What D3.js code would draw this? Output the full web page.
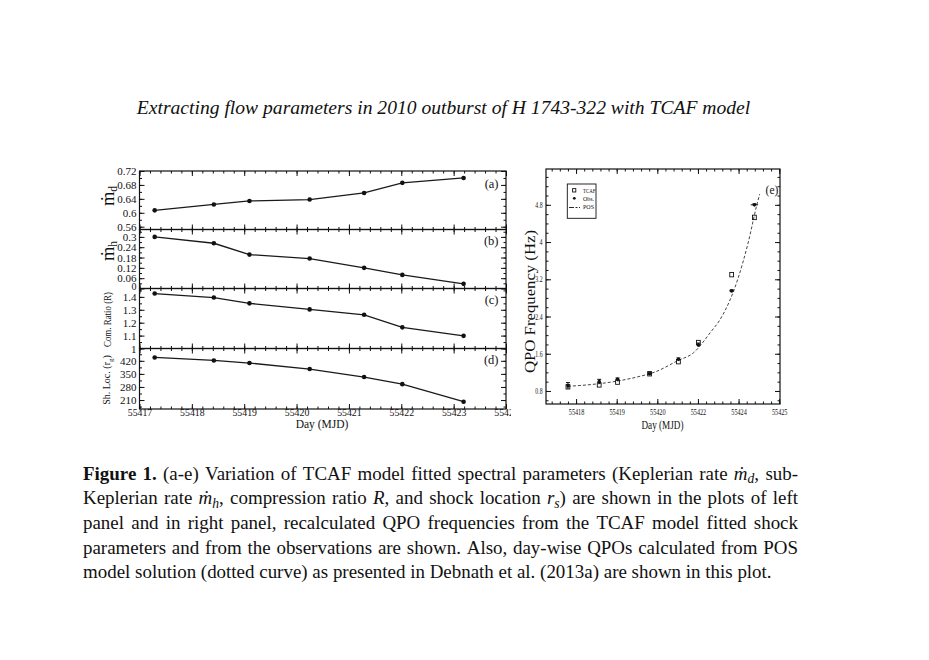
<!DOCTYPE html>
<html><head><meta charset="utf-8">
<script src="https://cdn.jsdelivr.net/npm/d3@7"></script>
<style>
body{margin:0;background:#fff;}
svg{display:block;}
text{font-family:"Liberation Serif","DejaVu Serif","Times New Roman",serif;fill:#111;}
</style>
</head><body>
<svg id="c" width="929" height="660"></svg>
<script>
// ---------------- DATA ----------------
const titleText = "Extracting flow parameters in 2010 outburst of H 1743-322 with TCAF model";

// left panels (a-d)
const daysLeft = [55417.29, 55418.42, 55419.10, 55420.25, 55421.29, 55422.02, 55423.19];
const mdotD    = [0.607, 0.624, 0.634, 0.638, 0.657, 0.686, 0.700];
const mdotH    = [0.300, 0.263, 0.197, 0.174, 0.120, 0.079, 0.027];
const compR    = [1.426, 1.395, 1.350, 1.303, 1.261, 1.164, 1.098];
const shockLoc = [438, 422, 408, 376, 333, 295, 201];
const leftXTicks = [55417, 55418, 55419, 55420, 55421, 55422, 55423, 55424];
const ticksA = [0.56, 0.60, 0.64, 0.68, 0.72];
const ticksB = [0, 0.06, 0.12, 0.18, 0.24, 0.30];
const ticksC = [1.0, 1.1, 1.2, 1.3, 1.4];
const ticksD = [210, 280, 350, 420];
const panelLetters = ["(a)", "(b)", "(c)", "(d)"];

// right panel (e)
const qpoTickVals   = [55418, 55419, 55420, 55421, 55422, 55423];
const qpoTickLabels = ["55418", "55419", "55420", "55422", "55424", "55425"];
const qpoYTicks = [0.8, 1.6, 2.4, 3.2, 4.0, 4.8];
const qpoDays = [55417.80, 55418.57, 55419.02, 55419.81, 55420.52, 55421.01, 55421.83, 55422.39];
const obsQPO  = [0.91, 1.00, 1.05, 1.17, 1.48, 1.79, 2.95, 4.80];
const obsErr  = [0.07, 0.05, 0.03, 0.02, 0.03, 0.04, 0.02, 0.02];
const obsXErr = [0, 0, 0, 0, 0, 0, 0.06, 0.09];
const tcafQPO = [0.89, 0.93, 0.99, 1.17, 1.43, 1.84, 3.30, 4.53];
const posDays = [55417.80, 55418.50, 55419.00, 55419.50, 55419.95, 55420.50, 55420.89, 55421.30, 55421.59, 55421.98, 55422.24, 55422.45, 55422.52];
const posQPO  = [0.90, 0.95, 1.01, 1.10, 1.21, 1.45, 1.62, 2.05, 2.40, 3.20, 4.00, 4.80, 5.03];
const legendLabels = ["TCAF", "Obs.", "POS"];

// ---------------- DRAW ----------------
const svg = d3.select("#c");
const ink = "#111";
const defs = svg.append("defs");

// Title
svg.append("text").attr("x", 443.5).attr("y", 114).attr("text-anchor", "middle")
  .attr("font-style", "italic").attr("font-size", 19.6).text(titleText);

// ---- Left panels ----
const xL = d3.scaleLinear().domain([55417, 55424]).range([139.5, 506]);
defs.append("clipPath").attr("id", "pageclip")
  .append("rect").attr("x", 0).attr("y", -20).attr("width", 511).attr("height", 60);

const xMinor = d3.range(55417, 55424.001, 0.2).map(v => +v.toFixed(2));

const panels = [
  {vals: mdotD, domain: [0.552, 0.72], top: 171, bottom: 229.5, ticks: ticksA, minorStep: 0.02},
  {vals: mdotH, domain: [0, 0.343], top: 229.5, bottom: 288.5, ticks: ticksB, minorStep: 0.03},
  {vals: compR, domain: [1.0, 1.465], top: 288.5, bottom: 348.5, ticks: ticksC, minorStep: 0.05},
  {vals: shockLoc, domain: [162, 486], top: 348.5, bottom: 409, ticks: ticksD, minorStep: 35}
];

function cleanAxis(sel) {
  sel.select(".domain").remove();
  sel.selectAll("line").attr("stroke", ink).attr("stroke-width", 1);
  sel.selectAll("text").attr("fill", ink).style("font-family", '"Liberation Serif",serif');
  return sel;
}

panels.forEach((p, i) => {
  const g = svg.append("g");
  const y = d3.scaleLinear().domain(p.domain).range([p.bottom, p.top]);
  const [x0, x1] = xL.range();
  const minorY = d3.range(p.domain[0] - (p.domain[0] % p.minorStep), p.domain[1] + 1e-9, p.minorStep)
    .filter(v => v >= p.domain[0] && v <= p.domain[1]);

  // bottom ticks
  const isLast = i === panels.length - 1;
  const bx = g.append("g").attr("transform", `translate(0,${p.bottom})`)
    .call(d3.axisBottom(xL).tickValues(leftXTicks).tickSize(-5).tickPadding(0.5)
      .tickFormat(isLast ? d3.format("d") : () => ""))
    .attr("font-size", 9.8);
  cleanAxis(bx);
  if (isLast) bx.attr("clip-path", "url(#pageclip)");
  cleanAxis(g.append("g").attr("transform", `translate(0,${p.bottom})`)
    .call(d3.axisBottom(xL).tickValues(xMinor).tickSize(-2.5).tickFormat(() => "")));
  // top ticks
  cleanAxis(g.append("g").attr("transform", `translate(0,${p.top})`)
    .call(d3.axisTop(xL).tickValues(leftXTicks).tickSize(-5).tickFormat(() => "")));
  cleanAxis(g.append("g").attr("transform", `translate(0,${p.top})`)
    .call(d3.axisTop(xL).tickValues(xMinor).tickSize(-2.5).tickFormat(() => "")));
  // left ticks + labels
  const la = cleanAxis(g.append("g").attr("transform", `translate(${x0},0)`)
    .call(d3.axisLeft(y).tickValues(p.ticks).tickSize(-5).tickPadding(3).tickFormat(d3.format("~g")))
    .attr("font-size", 11));
  // the "0" of panel (b) sits right at the panel boundary: lift it slightly
  if (i === 1) la.selectAll("text").filter(d => d === 0).attr("dy", "0.05em").attr("font-size", 10);
  cleanAxis(g.append("g").attr("transform", `translate(${x0},0)`)
    .call(d3.axisLeft(y).tickValues(minorY).tickSize(-2.5).tickFormat(() => "")));
  // right ticks
  cleanAxis(g.append("g").attr("transform", `translate(${x1},0)`)
    .call(d3.axisRight(y).tickValues(p.ticks).tickSize(-5).tickFormat(() => "")));
  cleanAxis(g.append("g").attr("transform", `translate(${x1},0)`)
    .call(d3.axisRight(y).tickValues(minorY).tickSize(-2.5).tickFormat(() => "")));

  // frame
  g.append("rect").attr("x", x0).attr("y", p.top).attr("width", x1 - x0).attr("height", p.bottom - p.top)
    .attr("fill", "none").attr("stroke", ink).attr("stroke-width", 1.2);

  // data line + points
  const pts = daysLeft.map((d, k) => [d, p.vals[k]]);
  g.append("path").datum(pts)
    .attr("d", d3.line().x(d => xL(d[0])).y(d => y(d[1])))
    .attr("fill", "none").attr("stroke", "#1a1a1a").attr("stroke-width", 1.3);
  g.selectAll("circle").data(pts).join("circle")
    .attr("cx", d => xL(d[0])).attr("cy", d => y(d[1])).attr("r", 2.3).attr("fill", ink);

  // panel letter
  g.append("text").attr("x", 498.5).attr("y", p.top + (i === 0 ? 16.5 : 15)).attr("text-anchor", "end")
    .attr("font-size", 12.5).text(panelLetters[i]);
});

// left y-axis titles
function mdotLabel(cx, cy, sub) {
  const t = svg.append("text").attr("transform", `translate(${cx},${cy}) rotate(-90)`)
    .attr("text-anchor", "middle");
  t.append("tspan").attr("font-size", 18.5).text("\u1E41");
  t.append("tspan").attr("font-size", 11.5).attr("dy", 3).text(sub);
}
mdotLabel(114, 196, "d");
mdotLabel(114, 251, "h");
svg.append("text").attr("transform", "translate(111,319.5) rotate(-90)").attr("text-anchor", "middle")
  .attr("font-size", 10).attr("textLength", 55).attr("lengthAdjust", "spacingAndGlyphs").text("Com.  Ratio (R)");
{
  const t = svg.append("text").attr("transform", "translate(110,380) rotate(-90)").attr("text-anchor", "middle")
    .attr("font-size", 10);
  t.append("tspan").text("Sh. Loc. (r");
  t.append("tspan").attr("font-size", 7).attr("dy", 2.5).text("g");
  t.append("tspan").attr("dy", -2.5).text(")");
}
svg.append("text").attr("x", 322).attr("y", 428).attr("text-anchor", "middle").attr("font-size", 11.5)
  .text("Day (MJD)");

// ---- Right panel (e) ----
const xR = d3.scaleLinear().domain([55417.26, 55423.02]).range([546, 780]);
const yR = d3.scaleLinear().domain([0.52, 5.57]).range([404, 169]);
const gR = svg.append("g");
const xRMinor = d3.range(55417.4, 55423.02, 0.2).map(v => +v.toFixed(2));
const yRMinor = d3.range(0.6, 5.57, 0.2).map(v => +v.toFixed(2));
const [rx0, rx1] = xR.range();
const [ry0, ry1] = yR.range();

const bR = cleanAxis(gR.append("g").attr("transform", `translate(0,${ry0})`)
  .call(d3.axisBottom(xR).tickValues(qpoTickVals).tickSize(-5).tickPadding(5.2)
    .tickFormat((d, k) => qpoTickLabels[k])).attr("font-size", 7.5));
bR.selectAll("text").attr("textLength", 15.5).attr("lengthAdjust", "spacingAndGlyphs");
cleanAxis(gR.append("g").attr("transform", `translate(0,${ry0})`)
  .call(d3.axisBottom(xR).tickValues(xRMinor).tickSize(-2.5).tickFormat(() => "")));
cleanAxis(gR.append("g").attr("transform", `translate(0,${ry1})`)
  .call(d3.axisTop(xR).tickValues(qpoTickVals).tickSize(-5).tickFormat(() => "")));
cleanAxis(gR.append("g").attr("transform", `translate(0,${ry1})`)
  .call(d3.axisTop(xR).tickValues(xRMinor).tickSize(-2.5).tickFormat(() => "")));
const lR = cleanAxis(gR.append("g").attr("transform", `translate(${rx0},0)`)
  .call(d3.axisLeft(yR).tickValues(qpoYTicks).tickSize(-5).tickPadding(3.5).tickFormat(d3.format(".1~f")))
  .attr("font-size", 8));
lR.selectAll("text").each(function () {
  const n = this.textContent.length;
  d3.select(this).attr("textLength", n === 1 ? 3 : 7.2).attr("lengthAdjust", "spacingAndGlyphs");
});
cleanAxis(gR.append("g").attr("transform", `translate(${rx0},0)`)
  .call(d3.axisLeft(yR).tickValues(yRMinor).tickSize(-2.5).tickFormat(() => "")));
cleanAxis(gR.append("g").attr("transform", `translate(${rx1},0)`)
  .call(d3.axisRight(yR).tickValues(qpoYTicks).tickSize(-5).tickFormat(() => "")));
cleanAxis(gR.append("g").attr("transform", `translate(${rx1},0)`)
  .call(d3.axisRight(yR).tickValues(yRMinor).tickSize(-2.5).tickFormat(() => "")));

gR.append("rect").attr("x", rx0).attr("y", ry1).attr("width", rx1 - rx0).attr("height", ry0 - ry1)
  .attr("fill", "none").attr("stroke", ink).attr("stroke-width", 1.2);

// POS curve
gR.append("path").datum(posDays.map((d, k) => [d, posQPO[k]]))
  .attr("d", d3.line().x(d => xR(d[0])).y(d => yR(d[1])).curve(d3.curveMonotoneX))
  .attr("fill", "none").attr("stroke", "#444").attr("stroke-width", 1).attr("stroke-dasharray", "3,2");

// TCAF squares
gR.selectAll("rect.tcaf").data(qpoDays.map((d, k) => [d, tcafQPO[k]])).join("rect").attr("class", "tcaf")
  .attr("x", d => xR(d[0]) - 1.9).attr("y", d => yR(d[1]) - 2.2).attr("width", 3.8).attr("height", 4.4)
  .attr("fill", "none").attr("stroke", ink).attr("stroke-width", 0.9);

// Obs points with error bars
const obs = qpoDays.map((d, k) => ({d, v: obsQPO[k], e: obsErr[k], xe: obsXErr[k]}));
const og = gR.append("g").attr("stroke", ink).attr("stroke-width", 1);
og.selectAll("line.ev").data(obs).join("line").attr("class", "ev")
  .attr("x1", o => xR(o.d)).attr("x2", o => xR(o.d))
  .attr("y1", o => yR(o.v - o.e)).attr("y2", o => yR(o.v + o.e));
og.selectAll("line.cap").data(obs).join("line").attr("class", "cap")
  .attr("x1", o => xR(o.d) - 2).attr("x2", o => xR(o.d) + 2)
  .attr("y1", o => yR(o.v + o.e)).attr("y2", o => yR(o.v + o.e));
og.selectAll("line.eh").data(obs.filter(o => o.xe > 0)).join("line").attr("class", "eh")
  .attr("x1", o => xR(o.d - o.xe)).attr("x2", o => xR(o.d + o.xe))
  .attr("y1", o => yR(o.v)).attr("y2", o => yR(o.v));
gR.selectAll("circle.obs").data(obs).join("circle").attr("class", "obs")
  .attr("cx", o => xR(o.d)).attr("cy", o => yR(o.v)).attr("r", 1.8).attr("fill", ink);

// legend
const lg = gR.append("g");
lg.append("rect").attr("x", 567.3).attr("y", 184).attr("width", 28.7).attr("height", 34.3)
  .attr("fill", "#fff").attr("stroke", ink).attr("stroke-width", 0.9);
lg.append("rect").attr("x", 572.6).attr("y", 188.6).attr("width", 3.2).attr("height", 3.4)
  .attr("fill", "#fff").attr("stroke", ink).attr("stroke-width", 0.9);
lg.append("circle").attr("cx", 574.3).attr("cy", 198.3).attr("r", 1.4).attr("fill", ink);
lg.append("line").attr("x1", 569).attr("x2", 580).attr("y1", 207.5).attr("y2", 207.5)
  .attr("stroke", ink).attr("stroke-width", 0.9).attr("stroke-dasharray", "5,1.5,2,1.5");
legendLabels.forEach((s, k) => {
  lg.append("text").attr("x", 583).attr("y", 192.5 + k * 8.4).attr("font-size", 7)
    .attr("textLength", [12.5, 11, 11][k]).attr("lengthAdjust", "spacingAndGlyphs").text(s);
});

// panel letter (e)
gR.append("text").attr("x", 772).attr("y", 194).attr("text-anchor", "middle").attr("font-size", 11.5).text("(e)");

// axis titles right
svg.append("text").attr("transform", "translate(535,301.5) rotate(-90)").attr("text-anchor", "middle")
  .attr("font-size", 14).attr("textLength", 143).attr("lengthAdjust", "spacingAndGlyphs")
  .text("QPO Frequency (Hz)");
svg.append("text").attr("x", 662.5).attr("y", 429).attr("text-anchor", "middle").attr("font-size", 13.5)
  .attr("textLength", 42).attr("lengthAdjust", "spacingAndGlyphs").text("Day (MJD)");

// ---- Caption ----
const capLines = [
  [[["Figure", "b"]], [["1.", "b"]], [["(a-e)"]], [["Variation"]], [["of"]], [["TCAF"]], [["model"]], [["fitted"]],
   [["spectral"]], [["parameters"]], [["(Keplerian"]], [["rate"]], [["\u1E41", "i"], ["d", "si"], [","]], [["sub-"]]],
  [[["Keplerian"]], [["rate"]], [["\u1E41", "i"], ["h", "si"], [","]], [["compression"]], [["ratio"]], [["R", "i"], [","]],
   [["and"]], [["shock"]], [["location"]], [["r", "i"], ["s", "si"], [")"]], [["are"]], [["shown"]], [["in"]], [["the"]],
   [["plots"]], [["of"]], [["left"]]],
  "panel and in right panel, recalculated QPO frequencies from the TCAF model fitted shock",
  "parameters and from the observations are shown. Also, day-wise QPOs calculated from POS",
  "model solution (dotted curve) as presented in Debnath et al. (2013a) are shown in this plot."
];
const capLeft = 83, capRight = 798, capBase = 479.5, capStep = 24.7;

// font size so that the last (unjustified) line spans 83 -> 772
let capFont = 17;
{
  const probe = svg.append("text").attr("font-size", capFont).text(capLines[4]);
  const w = probe.node().getComputedTextLength();
  capFont = capFont * (772 - capLeft) / w;
  probe.remove();
}

const capG = svg.append("g").attr("font-size", capFont);
capLines.forEach((line, li) => {
  const words = typeof line === "string" ? line.split(" ").map(w => [[w]]) : line;
  const y = capBase + li * capStep;
  const nodes = words.map(segs => {
    const t = capG.append("text").attr("y", y);
    let shifted = false;
    segs.forEach(([s, st]) => {
      const ts = t.append("tspan").text(s);
      if (st === "b") ts.attr("font-weight", "bold");
      if (st === "i") ts.attr("font-style", "italic");
      if (st === "si") { ts.attr("font-style", "italic").attr("font-size", capFont * 0.72).attr("dy", 3.5); shifted = true; }
      else if (shifted) { ts.attr("dy", -3.5); shifted = false; }
    });
    return t;
  });
  const widths = nodes.map(n => n.node().getComputedTextLength());
  const total = d3.sum(widths);
  const justify = li < capLines.length - 1;
  const spaceW = capFont * 0.25;
  const gap = justify ? (capRight - capLeft - total) / (nodes.length - 1) : spaceW;
  let x = capLeft;
  nodes.forEach((n, k) => { n.attr("x", x); x += widths[k] + gap; });
});
</script>
</body></html>
